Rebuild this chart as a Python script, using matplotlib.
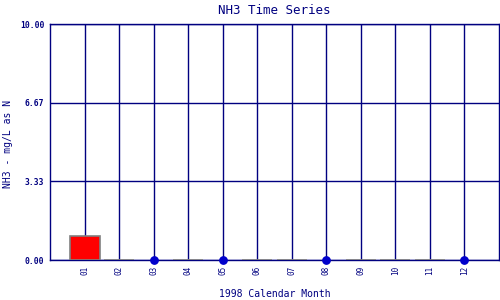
import numpy as np
import matplotlib
matplotlib.use("Agg")
import matplotlib.pyplot as plt

months = ["01", "02", "03", "04", "05", "06", "07", "08", "09", "10", "11", "12"]
# measured NH3 values (nan = no sample that month)
nh3 = [1.0, 0.0, np.nan, 0.0, np.nan, 0.0, 0.0, np.nan, 0.0, 0.0, 0.0, np.nan]
# months flagged with a marker on the axis
flag_months = [3, 5, 8, 12]
flag_values = [0.0, 0.0, 0.0, 0.0]
yticks = [0.0, 3.33, 6.67, 10.0]

navy = "#000080"
plt.rcParams["font.family"] = ["DejaVu Sans Mono"]

fig = plt.figure(figsize=(5, 3), dpi=100)
ax = fig.add_axes([0.1, 0.1333, 0.898, 0.7867])

x = np.arange(1, len(months) + 1)
for xi, v in zip(x, nh3):
    if np.isnan(v):
        continue
    ax.bar(xi, v, width=0.87, color="red", edgecolor="#808080", linewidth=1.2, zorder=3)

ax.scatter(flag_months, flag_values, s=28, color="#0000cc", zorder=4, clip_on=False)

ax.set_xlim(0, 13)
ax.set_ylim(0, 10)
ax.set_xticks(x)
ax.set_xticklabels(months, rotation=90, fontsize=5.5, color=navy)
ax.set_yticks(yticks)
ax.set_yticklabels([f"{t:.2f}" for t in yticks], fontsize=5.8, fontweight="bold", color=navy)
ax.tick_params(axis="both", which="both", length=0, pad=4)

ax.grid(True, color=navy, linewidth=1, zorder=1)
ax.set_axisbelow(True)
for s in ax.spines.values():
    s.set_color(navy)
    s.set_linewidth(1)

ax.set_title("NH3 Time Series", fontsize=9, color=navy, pad=7)
ax.set_xlabel("1998 Calendar Month", fontsize=7, color=navy, labelpad=10)
fig.text(0.016, 0.52, "NH3 - mg/L as N", rotation=90, fontsize=7, color=navy,
         ha="center", va="center")

fig.savefig("out.png", dpi=100)
